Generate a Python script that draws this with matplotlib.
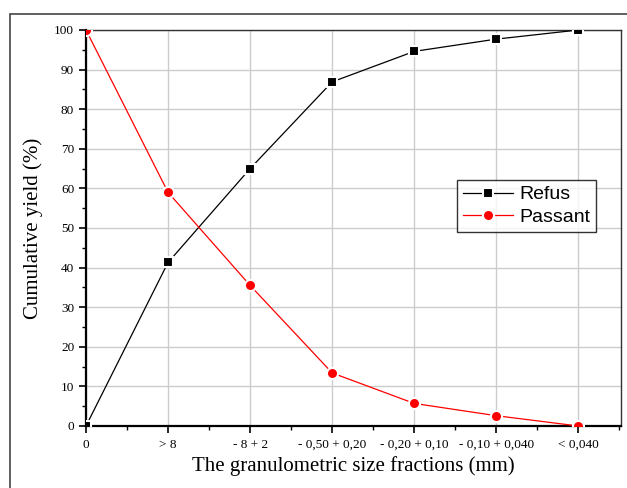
import numpy as np
import matplotlib.pyplot as plt
from matplotlib.patches import Rectangle
from matplotlib.ticker import MultipleLocator

plt.rcParams['font.family'] = ['Liberation Serif', 'DejaVu Serif']

categories = ['0', '> 8', '- 8 + 2', '- 0,50 + 0,20', '- 0,20 + 0,10',
              '- 0,10 + 0,040', '< 0,040']
refus = [0.0, 41.3, 65.0, 86.9, 94.6, 97.7, 100.0]
passant = [100.0, 59.0, 35.5, 13.4, 5.7, 2.6, 0.0]

W, H = 627, 488
fig = plt.figure(figsize=(W/100, H/100), dpi=100)
ax = fig.add_axes([86/W, 1-426/H, (621-86)/W, (426-30)/H])

# outer frame
fig.patches.append(Rectangle((10/W, -0.1), 1.2, 1-14/H+0.1, transform=fig.transFigure,
                             fill=False, edgecolor='#444444', lw=1.2, zorder=0))

x = np.arange(len(categories))
ax.plot(x, refus, '-', color='black', lw=0.9, marker='s', ms=7,
        mfc='black', mec='white', mew=1.5, label='Refus', zorder=3)
ax.plot(x, passant, '-', color='red', lw=0.9, marker='o', ms=8,
        mfc='red', mec='white', mew=1.5, label='Passant', zorder=3)

ax.set_xlim(0, 6.52)
ax.set_ylim(0, 100)
ax.set_xticks(x)
ax.set_xticklabels(categories, fontsize=9.5)
ax.xaxis.set_minor_locator(MultipleLocator(0.5))
ax.set_yticks(np.arange(0, 101, 10))
ax.yaxis.set_minor_locator(MultipleLocator(5))
ax.tick_params(axis='y', labelsize=9.5, direction='out', length=5, width=1.2)
ax.tick_params(axis='x', direction='out', length=5, width=1.2, pad=4)
ax.tick_params(which='minor', direction='out', length=3, width=1.0)
ax.grid(True, color='#cccccc', lw=1.0, zorder=0)
ax.set_axisbelow(True)

for s in ['left', 'bottom']:
    ax.spines[s].set_linewidth(1.6)
ax.spines['top'].set_linewidth(1.0)
ax.spines['right'].set_linewidth(1.0)
ax.spines['top'].set_color('#333333')
ax.spines['right'].set_color('#333333')

ax.set_ylabel('Cumulative yield (%)', fontsize=15, labelpad=8)
ax.set_xlabel('The granulometric size fractions (mm)', fontsize=15, labelpad=4)

leg = ax.legend(loc='upper left', bbox_to_anchor=((457-86)/(621-86), 1-(180-30)/(426-30)),
                prop={'family': 'Liberation Sans', 'size': 14}, frameon=True,
                fancybox=False, edgecolor='black', handlelength=2.6,
                borderpad=0.3, labelspacing=0.25, handletextpad=0.3, borderaxespad=0)
leg.get_frame().set_linewidth(1.0)

fig.savefig('out.png', dpi=100)
